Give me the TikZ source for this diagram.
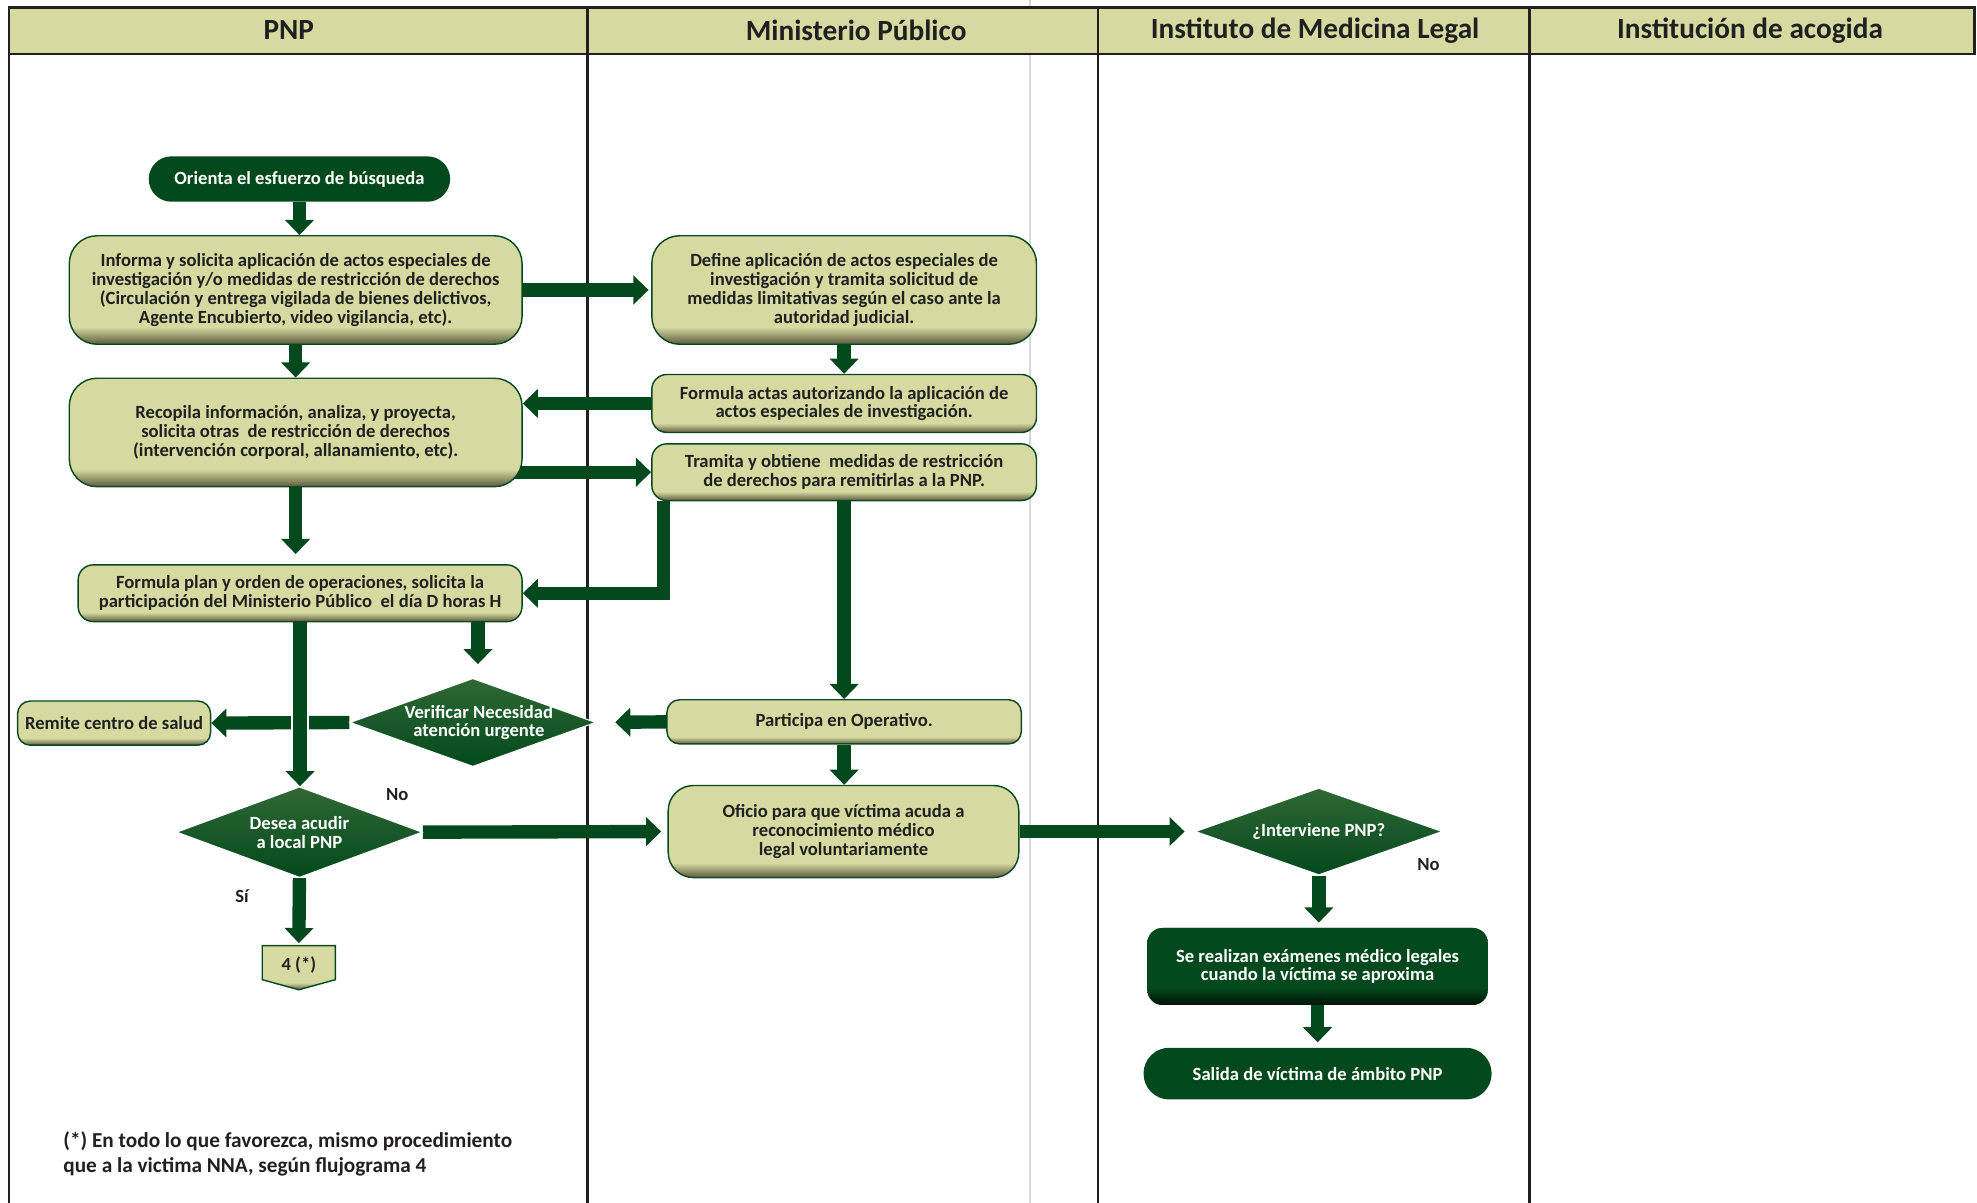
\documentclass[tikz,border=0pt]{standalone}
\usepackage{fontspec}
\setmainfont{Carlito}
\usetikzlibrary{arrows.meta,shapes.geometric,backgrounds}

\definecolor{pgreen}{RGB}{3,73,29}
\definecolor{lgreen}{RGB}{48,104,52}
\definecolor{olive}{RGB}{214,217,160}
\definecolor{olivedark}{RGB}{92,90,62}
\definecolor{hdr}{RGB}{214,217,160}
\definecolor{tdark}{RGB}{35,31,32}

\pgfdeclareverticalshading{olivebox}{100bp}{color(0bp)=(olivedark); color(25bp)=(olivedark); color(33bp)=(olive); color(100bp)=(olive)}
\pgfdeclareverticalshading{greenbox}{100bp}{color(0bp)=(black!75!pgreen); color(25bp)=(black!75!pgreen); color(36bp)=(pgreen); color(100bp)=(pgreen)}

\begin{document}
\begin{tikzpicture}[x=0.025cm,y=-0.025cm,
    txt/.style={font=\fontsize{10.5}{10.6}\selectfont\bfseries, align=center},
    obox/.style={txt, draw=pgreen, line width=0.8pt, shading=olivebox, text=tdark, inner sep=0pt},
    gbox/.style={txt, fill=pgreen, text=white, inner sep=0pt},
    dia/.style={diamond, draw=white, line width=0.6pt, shading=axis, top color=lgreen, middle color=pgreen, bottom color=pgreen, inner sep=0pt},
    arr/.style={draw=pgreen, line width=0.265cm, -{Triangle[width=0.56cm,length=0.3cm]}},
    lane/.style={draw=tdark, line width=1.4pt},
    yesno/.style={font=\fontsize{10.5}{12}\selectfont\bfseries, text=tdark},
    htxt/.style={font=\fontsize{16.5}{18}\selectfont\bfseries, text=tdark},
    foot/.style={font=\fontsize{12}{14.2}\selectfont\bfseries, text=tdark, align=left, inner sep=0pt}]

    \useasboundingbox (0,0) rectangle (1568,954);

    % header
    \draw[lane, fill=hdr] (7,6) rectangle (1566,43);
    \foreach \x in {466,871,1213}
        \draw[lane] (\x,6) -- (\x,43);
    \node[htxt] (hpnp) at (229,24) {PNP};
    \node[htxt] (hmp) at (679,24) {Ministerio Público};
    \node[htxt] (himl) at (1043,24) {Instituto de Medicina Legal};
    \node[htxt] (hacog) at (1388,24) {Institución de acogida};

    % PNP
    \node[gbox, minimum width=5.975cm, minimum height=0.9cm, rounded corners=0.45cm] (orienta) at (237.5,142) {Orienta el esfuerzo de búsqueda};
    \node[obox, minimum width=8.975cm, minimum height=2.15cm, rounded corners=0.55cm] (informa) at (234.5,230) {Informa y solicita aplicación de actos especiales de\\investigación y/o medidas de restricción de derechos\\(Circulación y entrega vigilada de bienes delictivos,\\Agente Encubierto, video vigilancia, etc).};
    \node[obox, minimum width=8.975cm, minimum height=2.15cm, rounded corners=0.55cm] (recopila) at (234.5,343) {Recopila información, analiza, y proyecta,\\solicita otras\ \ de restricción de derechos\\(intervención corporal, allanamiento, etc).};
    \node[obox, minimum width=8.8cm, minimum height=1.125cm, rounded corners=0.3cm] (plan) at (238,470.5) {Formula plan y orden de operaciones, solicita la\\participación del Ministerio Público\ \ el día D horas H};
    \node[dia, minimum width=4.875cm, minimum height=1.75cm, label={[txt,text=white,xshift=0.12cm]center:{Verificar Necesidad\\atención urgente}}] (verif) at (375,573) {};
    \node[obox, minimum width=3.825cm, minimum height=0.875cm, rounded corners=0.25cm] (remite) at (90.5,573.5) {Remite centro de salud};
    \node[dia, minimum width=4.875cm, minimum height=1.8cm, label={[txt,text=white]center:{Desea acudir\\a local PNP}}] (desea) at (237.5,660) {};
    \draw[draw=pgreen, line width=0.8pt, shading=olivebox] (208,750) -- (266,750) -- (266,777) -- (237,785) -- (208,777) -- cycle;
    \node[txt, text=tdark] (off4) at (237,765) {4 (*)};
    \coordinate (off4top) at (237,750);
    \node[yesno] (no1) at (315,630) {No};
    \node[yesno] (si) at (192,711) {Sí};
    \node[foot, anchor=west] (nota) at (50,915) {(*) En todo lo que favorezca, mismo procedimiento\\que a la victima NNA, según flujograma 4};

    % Ministerio Publico
    \node[obox, minimum width=7.625cm, minimum height=2.15cm, rounded corners=0.55cm] (define) at (669.5,230) {Define aplicación de actos especiales de\\investigación y tramita solicitud de\\medidas limitativas según el caso ante la\\autoridad judicial.};
    \node[obox, minimum width=7.625cm, minimum height=1.15cm, rounded corners=0.3cm] (actas) at (669.5,320) {Formula actas autorizando la aplicación de\\actos especiales de investigación.};
    \node[obox, minimum width=7.625cm, minimum height=1.125cm, rounded corners=0.3cm] (tramita) at (669.5,374.5) {Tramita y obtiene\ \ medidas de restricción\\de derechos para remitirlas a la PNP.};
    \node[obox, minimum width=7.025cm, minimum height=0.875cm, rounded corners=0.25cm] (particip) at (669.5,572.5) {Participa en Operativo.};
    \node[obox, minimum width=6.95cm, minimum height=1.825cm, rounded corners=0.5cm] (oficio) at (669,659.5) {Oficio para que víctima acuda a\\reconocimiento médico\\legal voluntariamente};

    % Medicina Legal
    \node[dia, minimum width=4.9cm, minimum height=1.725cm, label={[txt,text=white]center:{¿Interviene PNP?}}] (interv) at (1046,659.5) {};
    \node[yesno] (no2) at (1133,686) {No};
    \node[gbox, shading=greenbox, minimum width=6.75cm, minimum height=1.525cm, rounded corners=0.3cm] (examen) at (1045,766.5) {Se realizan exámenes médico legales\\cuando la víctima se aproxima};
    \node[gbox, minimum width=6.9cm, minimum height=1.025cm, rounded corners=0.51cm] (salida) at (1045,851.5) {Salida de víctima de ámbito PNP};

    \begin{scope}[on background layer]
        \draw[black!15, line width=0.8pt] (817,0) -- (817,954);
        \foreach \x in {7,466,871,1213}
            \draw[lane] (\x,43) -- (\x,954);
        % flechas
        \draw[arr] (orienta.south) -- (orienta.south |- informa.north);
        \draw[arr, shorten >=0.05cm] (informa.east) -- (define.west);
        \draw[arr] (define.south) -- (define.south |- actas.north);
        \draw[arr] (actas.west) -- (actas.west -| recopila.east);
        \draw[arr] (informa.south) -- (informa.south |- recopila.north);
        \draw[arr] ([xshift=-0.2cm]recopila.east |- tramita.west) -- (tramita.west);
        \draw[arr] ([xshift=0.25cm]tramita.south west) |- (plan.east);
        \draw[arr] (tramita.south) -- (tramita.south |- particip.north);
        \draw[arr, shorten >=0.2cm] (recopila.south) -- (recopila.south |- plan.north);
        \draw[arr, shorten >=0.27cm] ([xshift=3.525cm]plan.south) -- ([xshift=3.525cm]plan.south |- verif.north);
        \draw[arr] (verif.west) -- (remite.east);
        \draw[white, line width=0.37cm] (plan.south |- verif.west) ++(0,-12) -- ++(0,24);
        \draw[arr] (plan.south) -- (plan.south |- desea.north);
        \draw[arr, shorten >=0.375cm] (particip.west) -- (verif.east);
        \draw[arr] (particip.south) -- (particip.south |- oficio.north);
        \draw[arr, shorten >=0.125cm] (desea.east) -- (oficio.west);
        \draw[arr, shorten >=0.05cm] (desea.south) -- (off4top);
        \draw[arr, shorten >=0.2cm] (oficio.east) -- (interv.west);
        \draw[arr, shorten >=0.1cm] (interv.south) -- (interv.south |- examen.north);
        \draw[arr, shorten >=0.1cm] (examen.south) -- (examen.south |- salida.north);
    \end{scope}
\end{tikzpicture}
\end{document}
